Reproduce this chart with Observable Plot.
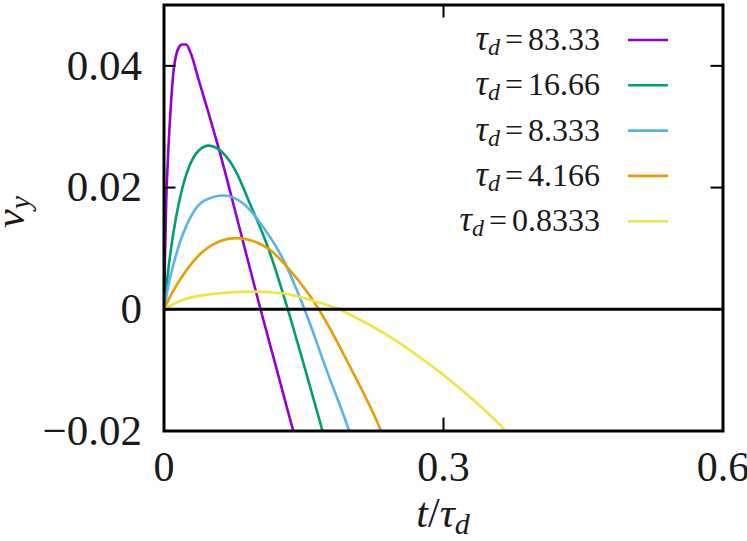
<!DOCTYPE html>
<html><head><meta charset="utf-8">
<script src="https://cdn.jsdelivr.net/npm/d3@7"></script>
<script src="https://cdn.jsdelivr.net/npm/@observablehq/plot@0.6"></script>
<style>html,body{margin:0;padding:0;background:#fff}</style>
</head><body><div id="chart"></div>
<script>
// ---- data ----
const seriesNames = ["83.33", "16.66", "8.333", "4.166", "0.8333"];
const colors = ["#9400d3", "#009e73", "#56b4e9", "#e69f00", "#f0e442"];

const t_83 = [0, 0.0011, 0.0024, 0.0041, 0.0070, 0.0105, 0.0166, 0.0195, 0.0238, 0.0284, 0.0374, 0.0481, 0.0588, 0.0810, 0.1036, 0.1207, 0.1385, 0.1400];
const v_83 = [0, 0.0088, 0.0178, 0.0244, 0.0326, 0.0395, 0.0432, 0.0435, 0.0435, 0.0422, 0.0376, 0.0321, 0.0264, 0.0134, 0, -0.0097, -0.0198, -0.0206];

const t_16 = [0, 0.005, 0.010, 0.016, 0.0266, 0.0374, 0.0481, 0.0625, 0.0767, 0.091, 0.112, 0.1329, 0.1510, 0.1698, 0.1720];
const v_16 = [0, 0.0070, 0.0125, 0.0175, 0.0233, 0.0261, 0.0269, 0.0258, 0.0228, 0.0178, 0.0100, 0, -0.0096, -0.0198, -0.0210];

const t_8 = [0, 0.006, 0.0142, 0.0284, 0.0427, 0.0642, 0.0857, 0.107, 0.1286, 0.1508, 0.175, 0.1983, 0.2005];
const v_8 = [0, 0.0048, 0.0096, 0.0151, 0.0178, 0.0187, 0.0173, 0.0134, 0.0080, 0, -0.0102, -0.0198, -0.0208];

const t_4 = [0, 0.008, 0.0213, 0.0427, 0.0767, 0.1108, 0.1358, 0.1661, 0.2002, 0.2324, 0.2345];
const v_4 = [0, 0.0025, 0.0058, 0.0096, 0.0117, 0.0101, 0.0063, 0, -0.0096, -0.0198, -0.0206];

const t_08 = [0, 0.0213, 0.0571, 0.0928, 0.1286, 0.1644, 0.188, 0.20, 0.22, 0.24, 0.26, 0.28, 0.30, 0.32, 0.34, 0.36, 0.368];
const v_08 = [0, 0.0016, 0.0026, 0.0029, 0.0026, 0.0012, 0, -0.0009, -0.0025, -0.0043, -0.0063, -0.0085, -0.0108, -0.0133, -0.0160, -0.0189, -0.0202];

const xTicks = [0, 0.3, 0.6];
const xTickLabels = ["0", "0.3", "0.6"];
const yTicks = [-0.02, 0, 0.02, 0.04];
const yTickLabels = ["\u22120.02", "0", "0.02", "0.04"];

// ---- build table ----
const ts = [t_83, t_16, t_8, t_4, t_08];
const vs = [v_83, v_16, v_8, v_4, v_08];
const rows = [];
seriesNames.forEach((s, i) => ts[i].forEach((t, j) => rows.push({s, t, v: vs[i][j]})));

// ---- layout ----
const W = 747, H = 541, mL = 163.5, mR = 24.5, mT = 4.5, mB = 110.5;
const innerW = W - mL - mR, innerH = H - mT - mB;
const FONT = "Liberation Serif";
const TXT = "#1a1a1a";

const chart = Plot.plot({
  width: W, height: H,
  marginLeft: mL, marginRight: mR, marginTop: mT, marginBottom: mB,
  style: {fontFamily: FONT, background: "#fff", color: TXT},
  x: {domain: [0, 0.6], axis: null},
  y: {domain: [-0.02, 0.05], axis: null},
  color: {domain: seriesNames, range: colors},
  marks: [
    Plot.line(rows, {x: "t", y: "v", z: "s", stroke: "s", strokeWidth: 2.6, curve: "monotone-x", clip: true}),
    Plot.ruleY([0], {stroke: "#000", strokeWidth: 3}),
    Plot.ruleY(yTicks, {stroke: "#000", strokeWidth: 2, insetRight: innerW - 12}),
    Plot.ruleY(yTicks, {stroke: "#000", strokeWidth: 2, insetLeft: innerW - 12}),
    Plot.ruleX(xTicks, {stroke: "#000", strokeWidth: 2, insetTop: innerH - 13}),
    Plot.ruleX(xTicks, {stroke: "#000", strokeWidth: 2, insetBottom: innerH - 13}),
    Plot.frame({stroke: "#000", strokeWidth: 3}),
    Plot.axisY(yTicks, {tickSize: 0, tickPadding: 22, fontSize: 43, fill: TXT, label: null,
      tickFormat: d => yTickLabels[yTicks.indexOf(d)]}),
    Plot.axisX(xTicks, {tickSize: 0, tickPadding: 20, fontSize: 42, fill: TXT, label: null,
      tickFormat: d => xTickLabels[xTicks.indexOf(d)]})
  ]
});
document.getElementById("chart").appendChild(chart);

// ---- axis titles and legend (with subscripts) ----
const svg = d3.select(chart);
const sx = chart.scale("x");

// x title: t/τ_d
const xt = svg.append("text")
  .attr("x", sx.apply(0.3)).attr("y", 527)
  .attr("text-anchor", "middle")
  .attr("font-family", FONT).attr("font-size", 42).attr("fill", TXT);
xt.append("tspan").attr("font-style", "italic").text("t");
xt.append("tspan").text("/");
xt.append("tspan").attr("font-style", "italic").text("\u03c4");
xt.append("tspan").attr("font-style", "italic").attr("font-size", 30).attr("dy", 7).text("d");

// y title: v_y
const yt = svg.append("text")
  .attr("transform", "translate(24,212) rotate(-90)")
  .attr("text-anchor", "middle")
  .attr("font-family", FONT).attr("font-size", 42).attr("fill", TXT);
yt.append("tspan").attr("font-style", "italic").text("v");
yt.append("tspan").attr("font-style", "italic").attr("font-size", 30).attr("dy", 6).text("y");

// legend
const lg = svg.append("g");
seriesNames.forEach((name, i) => {
  const cy = 40 + 45.3 * i;
  const tx = lg.append("text")
    .attr("x", 600).attr("y", cy + 10)
    .attr("text-anchor", "end")
    .attr("font-family", FONT).attr("font-size", 32).attr("fill", TXT);
  tx.append("tspan").attr("font-style", "italic").attr("font-size", 35).text("\u03c4");
  tx.append("tspan").attr("font-style", "italic").attr("font-size", 24).attr("dy", 5).text("d");
  tx.append("tspan").attr("dy", -5).attr("dx", 5).text("=");
  tx.append("tspan").attr("dx", 5).text(name);
  lg.append("line")
    .attr("x1", 628).attr("x2", 668).attr("y1", cy).attr("y2", cy)
    .attr("stroke", colors[i]).attr("stroke-width", 2.6);
});
</script>
</body></html>
